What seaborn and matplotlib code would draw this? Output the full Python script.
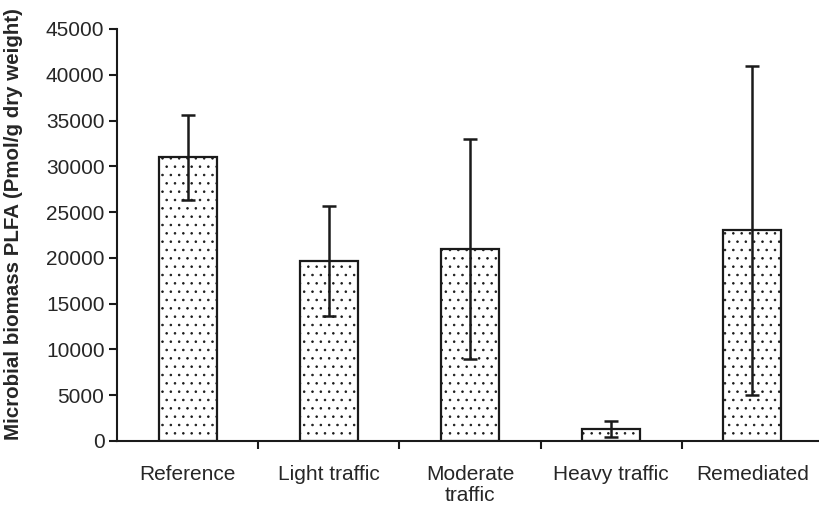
import matplotlib
matplotlib.use("Agg")
import matplotlib.pyplot as plt
import seaborn as sns
import pandas as pd
import numpy as np

categories = ["Reference", "Light traffic", "Moderate\ntraffic", "Heavy traffic", "Remediated"]
means = [31000, 19700, 21000, 1300, 23000]
errors = [4650, 6000, 12000, 850, 18000]
yticks = [0, 5000, 10000, 15000, 20000, 25000, 30000, 35000, 40000, 45000]

sns.set_theme(style="white")
plt.rcParams['font.family'] = ['Liberation Sans', 'DejaVu Sans']
plt.rcParams['hatch.linewidth'] = 0.6
plt.rcParams['hatch.color'] = '#333333'

df = pd.DataFrame({"cat": categories, "val": means})

fig = plt.figure(figsize=(8.19, 5.09), dpi=100)
ax = fig.add_axes([117/819, 68/509, 706/819, 412/509])

sns.barplot(data=df, x="cat", y="val", ax=ax, color="white", width=0.41,
            edgecolor="#1a1a1a", linewidth=1.6, errorbar=None, hatch="..")

x = np.arange(len(categories))
ax.errorbar(x, means, yerr=errors, fmt="none", ecolor="#1a1a1a", elinewidth=1.8,
            capsize=5, capthick=1.8)

ax.set_xlim(-0.5, 4.5)
ax.set_ylim(0, 45000)
ax.set_yticks(yticks)
ax.set_yticklabels([str(v) for v in yticks], fontsize=15)
ax.set_xticks([0.5, 1.5, 2.5, 3.5])
ax.set_xticklabels([])
ax.set_xticks(x, minor=True)
ax.set_xticklabels(categories, minor=True, fontsize=15, linespacing=1.15)
ax.tick_params(axis="x", which="major", direction="out", length=6, width=1.5, color="#1a1a1a", bottom=True)
ax.tick_params(axis="x", which="minor", length=0, pad=17)
ax.tick_params(axis="y", direction="out", length=6, width=1.5, color="#1a1a1a", left=True, pad=3)
ax.set_xlabel("")
ax.set_ylabel("Microbial biomass PLFA (Pmol/g dry weight)", fontsize=14.8, fontweight="bold")
ax.yaxis.set_label_coords(-0.133, 0.527)

for s in ["top", "right"]:
    ax.spines[s].set_visible(False)
for s in ["left", "bottom"]:
    ax.spines[s].set_color("#1a1a1a")
    ax.spines[s].set_linewidth(1.5)

fig.savefig("out.png", dpi=100)
